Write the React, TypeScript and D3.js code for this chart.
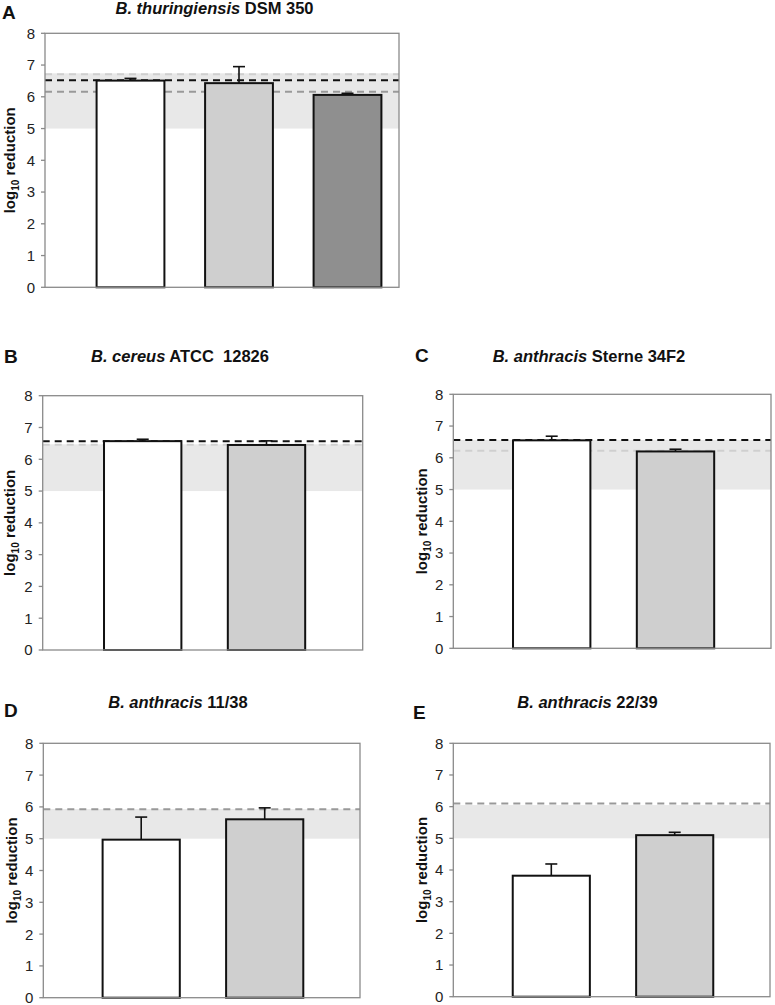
import React from "react";
import * as d3 from "d3";

// ---- Data ----
const panelLetters = ["A", "B", "C", "D", "E"];
const titleItalic = ["B. thuringiensis", "B. cereus", "B. anthracis", "B. anthracis", "B. anthracis"];
const titleRest = ["DSM 350", "ATCC  12826", "Sterne 34F2", "11/38", "22/39"];
const categoriesA = ["s1", "s2", "s3"];
const categories2 = ["s1", "s2"];
const meansA = [6.51, 6.43, 6.06];
const errorsA = [0.07, 0.52, 0.05];
const meansB = [6.57, 6.45];
const errorsB = [0.06, 0.13];
const meansC = [6.55, 6.2];
const errorsC = [0.13, 0.07];
const meansD = [4.97, 5.61];
const errorsD = [0.71, 0.36];
const meansE = [3.82, 5.1];
const errorsE = [0.37, 0.09];
// reference (dashed) levels per panel: [value, series index]
const refA: [number, number][] = [[6.71, 1], [6.16, 2], [6.52, 0]];
const refB: [number, number][] = [[6.46, 1], [6.57, 0]];
const refC: [number, number][] = [[6.22, 1], [6.56, 0]];
const refD: [number, number][] = [[5.93, 2]];
const refE: [number, number][] = [[6.1, 2]];
const bandLow = [5, 5, 5, 5, 5];
const bandHigh = [6.74, 6.47, 6.56, 5.93, 6.05];
const yTicks = [0, 1, 2, 3, 4, 5, 6, 7, 8];

// ---- Styles ----
const barFill = ["#ffffff", "#cfcfcf", "#8f8f8f"];
const dashColor = ["#111111", "#cfcfcf", "#999999"];
const FONT = "'Liberation Sans', Arial, sans-serif";

// ---- Layout ----
type Layout = {
  box: [number, number, number, number];
  xr: [number, number];
  title: [number, number];
  letter: [number, number];
  ylab: number;
};
const layouts: Layout[] = [
  { box: [45, 33.3, 399, 287.3], xr: [76.25, 401.75], title: [214.5, 14], letter: [2, 19], ylab: 15 },
  { box: [42.7, 395.7, 362.7, 650], xr: [80.8, 328.4], title: [180, 361.7], letter: [4, 362.7], ylab: 15 },
  { box: [453.3, 394.3, 771, 648.3], xr: [489.8, 737.4], title: [589, 361.7], letter: [415, 362], ylab: 427 },
  { box: [43.3, 743.3, 360, 997.7], xr: [79.45, 326.45], title: [178, 708], letter: [4, 716.7], ylab: 17 },
  { box: [453.3, 743.3, 770, 996.7], xr: [489.6, 736.4], title: [587.5, 708], letter: [413, 719], ylab: 427 },
];

const panelData = [
  { cats: categoriesA, means: meansA, errs: errorsA, refs: refA },
  { cats: categories2, means: meansB, errs: errorsB, refs: refB },
  { cats: categories2, means: meansC, errs: errorsC, refs: refC },
  { cats: categories2, means: meansD, errs: errorsD, refs: refD },
  { cats: categories2, means: meansE, errs: errorsE, refs: refE },
];

function Panel({ i }: { i: number }) {
  const L = layouts[i];
  const D = panelData[i];
  const [x0, y0, x1, y1] = L.box;
  const y = d3.scaleLinear().domain([0, 8]).range([y1, y0]);
  const x = d3.scaleBand<string>().domain(D.cats).range(L.xr).paddingInner(0.375).paddingOuter(0.1875);
  const bw = x.bandwidth();
  const cy = (y0 + y1) / 2;
  return (
    <g>
      <text x={L.letter[0]} y={L.letter[1]} fontFamily={FONT} fontWeight="bold" fontSize={19} fill="#111">
        {panelLetters[i]}
      </text>
      <text x={L.title[0]} y={L.title[1]} textAnchor="middle" fontFamily={FONT} fontWeight="bold" fontSize={16.5} fill="#111" style={{ whiteSpace: "pre" }}>
        <tspan fontStyle="italic">{titleItalic[i]}</tspan>
        <tspan>{" " + titleRest[i]}</tspan>
      </text>
      {/* shaded band */}
      <rect x={x0} y={y(bandHigh[i])} width={x1 - x0} height={y(bandLow[i]) - y(bandHigh[i])} fill="#e8e8e8" />
      {/* dashed reference lines */}
      {D.refs.map(([v, s], k) => (
        <line key={"r" + k} x1={x0} x2={x1} y1={y(v)} y2={y(v)} stroke={dashColor[s]} strokeWidth={2} strokeDasharray="7 5" />
      ))}
      {/* bars */}
      {D.means.map((m, k) => {
        const bx = x(D.cats[k])!;
        const cx = bx + bw / 2;
        const top = y(m);
        const et = y(m + D.errs[k]);
        return (
          <g key={"b" + k}>
            <line x1={cx} x2={cx} y1={top} y2={et} stroke="#111" strokeWidth={1.6} />
            <line x1={cx - 6} x2={cx + 6} y1={et} y2={et} stroke="#111" strokeWidth={1.6} />
            <rect x={bx} y={top} width={bw} height={y(0) - top} fill={barFill[k]} stroke="#111" strokeWidth={2} />
          </g>
        );
      })}
      {/* frame */}
      <rect x={x0} y={y0} width={x1 - x0} height={y1 - y0} fill="none" stroke="#8a8a8a" strokeWidth={1.3} />
      {/* y ticks */}
      {yTicks.map((t) => (
        <g key={"t" + t}>
          <line x1={x0 - 4} x2={x0} y1={y(t)} y2={y(t)} stroke="#8a8a8a" strokeWidth={1.3} />
          <text x={x0 - 10} y={y(t)} dy="0.36em" textAnchor="end" fontFamily={FONT} fontSize={15} fill="#222">
            {t}
          </text>
        </g>
      ))}
      {/* y label */}
      <text transform={`translate(${L.ylab},${cy}) rotate(-90)`} textAnchor="middle" fontFamily={FONT} fontWeight="bold" fontSize={15} fill="#111">
        <tspan>log</tspan>
        <tspan fontSize={10} dy={4}>10</tspan>
        <tspan dy={-4}> reduction</tspan>
      </text>
    </g>
  );
}

export default function App() {
  return (
    <svg width={775} height={1005} style={{ position: "absolute", left: 0, top: 0, background: "#fff" }}>
      <rect width={775} height={1005} fill="#fff" />
      {panelLetters.map((_, i) => (
        <Panel key={i} i={i} />
      ))}
    </svg>
  );
}
